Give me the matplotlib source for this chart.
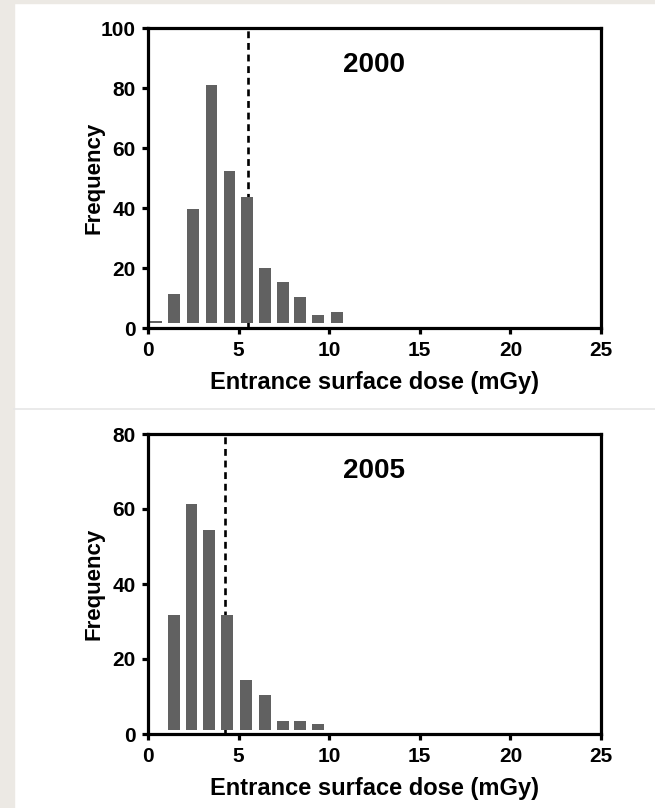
import matplotlib
matplotlib.use("Agg")
import matplotlib.pyplot as plt
from matplotlib.patches import Rectangle
from matplotlib.lines import Line2D

plt.rcParams['font.family'] = ['Liberation Sans', 'DejaVu Sans']

# dose bins (mGy) and counts per survey year
dose_2000 = [0.45, 1.45, 2.5, 3.5, 4.5, 5.45, 6.45, 7.45, 8.4, 9.4, 10.45]
freq_2000 = [2.4, 11.4, 39.8, 81, 52.4, 43.8, 20.1, 15.4, 10.4, 4.4, 5.3]
dose_2005 = [1.45, 2.4, 3.35, 4.35, 5.4, 6.45, 7.45, 8.4, 9.4]
freq_2005 = [31.8, 61.4, 54.5, 31.8, 14.4, 10.4, 3.5, 3.5, 2.7]
mean_2000 = 5.5
mean_2005 = 4.25
years = ['2000', '2005']
ymax = [100, 80]
xticks = [0, 5, 10, 15, 20, 25]

fig = plt.figure(figsize=(6.55, 8.08), dpi=100)

# slide background bits
fig.patches.append(Rectangle((0, 0), 14 / 655, 1, transform=fig.transFigure,
                             color='#ECE9E4', zorder=0))
fig.patches.append(Rectangle((0, 1 - 3 / 808), 1, 3 / 808, transform=fig.transFigure,
                             color='#ECE9E4', zorder=0))
fig.lines.append(Line2D([14 / 655, 1], [1 - 409 / 808] * 2, transform=fig.transFigure,
                        color='#E6E6E6', lw=1.2))

panels = [
    (dose_2000, freq_2000, mean_2000, 1 - 328 / 808, 1.6),
    (dose_2005, freq_2005, mean_2005, 1 - 734 / 808, 1.1),
]

for i, (x, y, m, bottom, base) in enumerate(panels):
    ax = fig.add_axes([148 / 655, bottom, 453 / 655, 300 / 808])
    ax.axvline(m, color='black', lw=1.9, ls=(0, (2.6, 1.8)), zorder=1)
    ax.bar(x, [v - base for v in y], bottom=base, width=0.65,
           color='#616161', zorder=2)
    ax.set_xlim(0, 25)
    ax.set_ylim(0, ymax[i])
    ax.set_xticks(xticks)
    ax.set_yticks(range(0, ymax[i] + 1, 20))
    for s in ax.spines.values():
        s.set_linewidth(2.3)
    ax.tick_params(direction='out', length=4, width=2.3, pad=5,
                   labelsize=15)
    for lab in ax.get_xticklabels() + ax.get_yticklabels():
        lab.set_fontweight('bold')
    ax.text(0.5, 0.875, years[i], transform=ax.transAxes, ha='center',
            va='center', fontsize=20, fontweight='bold')
    ax.set_xlabel('Entrance surface dose (mGy)', fontsize=17,
                  fontweight='bold', labelpad=8)
    ax.set_ylabel('Frequency', fontsize=16, fontweight='bold')
    ax.yaxis.set_label_coords(-0.095, 0.5)

fig.savefig('out.png', dpi=100)
